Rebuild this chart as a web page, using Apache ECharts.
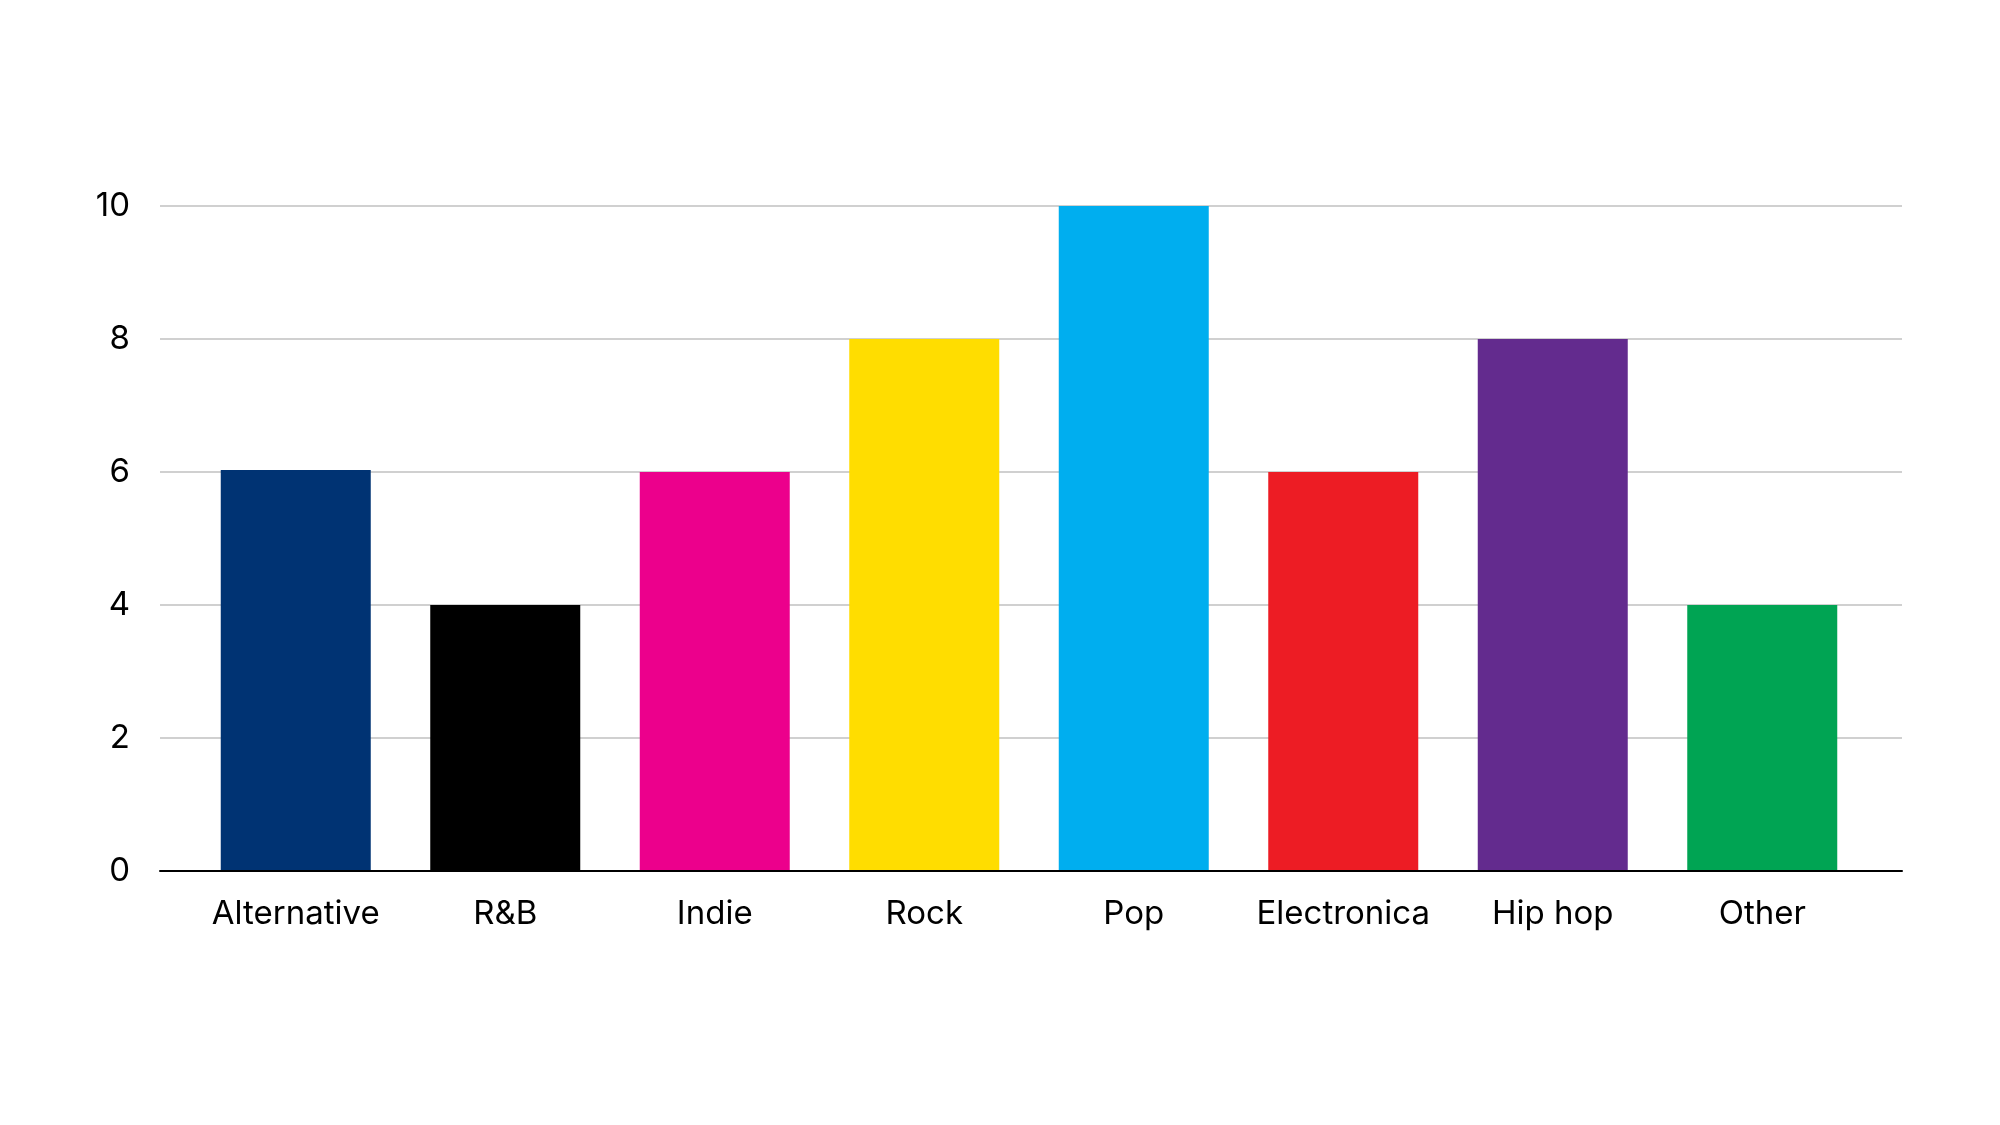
<!DOCTYPE html>
<html>
<head>
<meta charset="utf-8">
<script src="https://cdn.jsdelivr.net/npm/echarts@6/dist/echarts.min.js"></script>
<style>
html,body{margin:0;padding:0;background:#fff;}
#chart{width:2000px;height:1125px;}
</style>
</head>
<body>
<div id="chart"></div>
<script>
const categories = ['Alternative', 'R&B', 'Indie', 'Rock', 'Pop', 'Electronica', 'Hip hop', 'Other'];
const values = [6.03, 4, 6, 8, 10, 6, 8, 4];
const barColors = ['#003373', '#000000', '#EC008C', '#FFDD00', '#00AEEF', '#ED1C24', '#632B8E', '#00A453'];
const yMin = 0, yMax = 10, yStep = 2;

const chart = echarts.init(document.getElementById('chart'), null, {renderer: 'canvas'});
const font = 'Inter';
chart.setOption({
  animation: false,
  backgroundColor: '#ffffff',
  grid: [
    {left: 160, right: 98, top: 206, bottom: 254},
    {left: 191, right: 133, top: 206, bottom: 254}
  ],
  xAxis: [
    {
      gridIndex: 0, type: 'value', min: 0, max: 1, z: 5,
      axisLine: {show: true, onZero: false, lineStyle: {color: '#000', width: 2}},
      axisTick: {show: false}, axisLabel: {show: false}, splitLine: {show: false}
    },
    {
      gridIndex: 1, type: 'category', data: categories,
      axisLine: {show: false}, axisTick: {show: false},
      axisLabel: {fontFamily: font, fontSize: 33, color: '#000', margin: 27, interval: 0}
    }
  ],
  yAxis: [
    {
      gridIndex: 0, type: 'value', min: yMin, max: yMax, interval: yStep,
      axisLine: {show: false}, axisTick: {show: false},
      axisLabel: {fontFamily: font, fontSize: 33, color: '#000', margin: 30},
      splitLine: {show: true, lineStyle: {color: '#d0d0d0', width: 2}}
    },
    {
      gridIndex: 1, type: 'value', min: yMin, max: yMax, interval: yStep, show: false,
      splitLine: {show: false}
    }
  ],
  series: [{
    type: 'bar', xAxisIndex: 1, yAxisIndex: 1,
    barWidth: 150,
    data: values.map((v, i) => ({value: v, itemStyle: {color: barColors[i]}}))
  }]
});
</script>
</body>
</html>
